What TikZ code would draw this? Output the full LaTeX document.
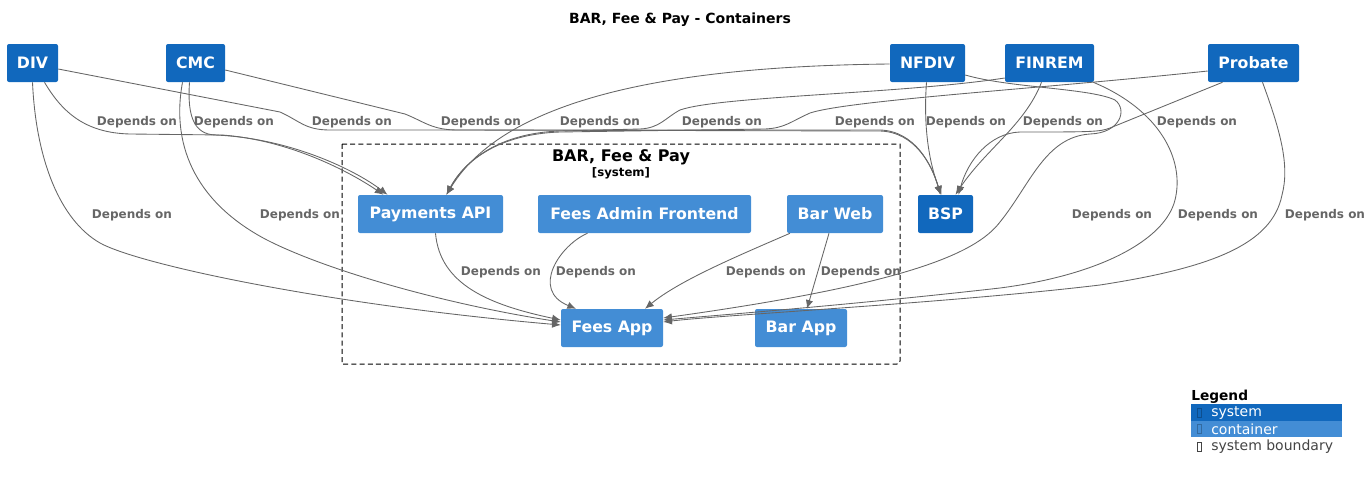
\documentclass[tikz,border=0pt]{standalone}
\usepackage{fontspec}
\setmainfont{DejaVu Sans}
\usetikzlibrary{calc, arrows.meta}
\definecolor{sysblue}{HTML}{1168BD}
\definecolor{conblue}{HTML}{438DD5}
\definecolor{depgray}{HTML}{666666}
\definecolor{legendgray}{HTML}{444444}
\tikzset{>={Latex[length=6.5pt, width=5.5pt]}}
\tikzset{
  sysnode/.style={fill=sysblue, text=white, font=\fontsize{11.8}{14}\selectfont\bfseries,
    rounded corners=1.5pt, minimum height=28.5pt, inner sep=0pt},
  connode/.style={sysnode, fill=conblue},
  dep/.style={->, depgray, line width=0.65pt},
  deplabel/.style={text=depgray, font=\fontsize{9}{11}\selectfont\bfseries, inner sep=0pt, yshift=-1pt}
}

\begin{document}
\begin{tikzpicture}[x=0.75pt, y=-0.75pt]
\useasboundingbox (0,0) rectangle (1372,479);

\node[font=\fontsize{10.5}{12}\selectfont\bfseries] (title) at (680,19.5) {BAR, Fee \& Pay - Containers};

% Draw system boundary
\draw[dash pattern=on 3.75pt off 2.4pt, line width=0.75pt] (342,144) -- (900,144) -- (900,361)
  arc (0:90:3) -- (342,364) -- cycle;
\node[font=\fontsize{12}{14}\selectfont\bfseries] (bndname) at (621,157) {BAR, Fee \& Pay};
\node[font=\fontsize{8.8}{10}\selectfont\bfseries] (bndtype) at (621,173) {[system]};

% Draw systems
\node[sysnode, minimum width=38.25pt] (div) at (32.5,63) {DIV};
\node[sysnode, minimum width=44.25pt] (cmc) at (195.5,63) {CMC};
\node[sysnode, minimum width=56.25pt] (nfdiv) at (927.5,63) {NFDIV};
\node[sysnode, minimum width=66.75pt] (finrem) at (1049.5,63) {FINREM};
\node[sysnode, minimum width=68.25pt] (probate) at (1253.5,63) {Probate};
\node[sysnode, minimum width=41.25pt] (bsp) at (945.5,214) {BSP};

% Draw containers
\node[connode, minimum width=108.75pt] (payapi) at (430.5,214) {Payments API};
\node[connode, minimum width=159.75pt] (feesadmin) at (644.5,214) {Fees Admin Frontend};
\node[connode, minimum width=72pt] (barweb) at (835,214) {Bar Web};
\node[connode, minimum width=76.5pt] (feesapp) at (612,328) {Fees App};
\node[connode, minimum width=69pt] (barapp) at (801,328) {Bar App};

% Draw dependencies
\draw[dep] ($(div.south)+(12,0)$) .. controls (62,112) and (85,133) .. (130,134) -- (222,135)
  .. controls (290,140) and (350,172) .. ($(payapi.north)+(-47,0)$);
\draw[dep] ($(cmc.south)+(-6,0)$) .. controls (187,118) and (195,134) .. (215,135)
  .. controls (290,138) and (355,170) .. ($(payapi.north)+(-43,0)$);
\draw[dep] ($(div.east)+(0,6)$) -- (280,112) .. controls (300,121) and (305,130) .. (330,130) -- (880,130)
  .. controls (915,131) and (932,165) .. ($(bsp.north)+(-5,0)$);
\draw[dep] ($(cmc.east)+(0,7)$) -- (405,114) .. controls (425,122) and (432,130) .. (458,130) -- (880,131)
  .. controls (915,132) and (932,165) .. ($(bsp.north)+(-5,0)$);
\draw[dep] ($(nfdiv.west)+(0,1)$) .. controls (700,66) and (510,90) .. ($(payapi.north)+(16,0)$);
\draw[dep] ($(finrem.west)+(0,15)$) .. controls (900,94) and (720,96) .. (680,110)
  .. controls (665,118) and (660,128) .. (640,129) -- (560,131)
  .. controls (500,133) and (465,160) .. ($(payapi.north)+(16,0)$);
\draw[dep] ($(probate.west)+(0,8)$) .. controls (1050,88) and (850,100) .. (810,113)
  .. controls (790,122) and (785,128) .. (765,129) -- (560,132)
  .. controls (500,134) and (465,160) .. ($(payapi.north)+(16,0)$);
\draw[dep] ($(nfdiv.south)+(-1,0)$) .. controls (923,130) and (930,165) .. ($(bsp.north)+(-4,0)$);
\draw[dep] ($(finrem.south)+(-8,0)$) .. controls (1025,125) and (985,150) .. ($(bsp.north)+(10,0)$);
\draw[dep] ($(probate.south)+(-31,0)$) -- (1110,128) .. controls (1100,132) and (1090,132) .. (1020,132)
  .. controls (990,133) and (968,160) .. ($(bsp.north)+(13,0)$);
\draw[dep] ($(nfdiv.east)+(0,12)$) .. controls (1010,88) and (1090,88) .. (1115,100)
  .. controls (1128,110) and (1120,133) .. (1090,134)
  .. controls (1045,137) and (1030,185) .. (1000,222)
  .. controls (975,255) and (900,285) .. ($(feesapp.east)+(0,-10)$);
\draw[dep] ($(finrem.south east)+(-1,0)$) .. controls (1160,110) and (1185,160) .. (1175,200)
  .. controls (1165,240) and (1100,275) .. (1000,288)
  .. controls (850,305) and (720,315) .. ($(feesapp.east)+(0,-8)$);
\draw[dep] ($(probate.south)+(9,0)$) .. controls (1280,130) and (1290,165) .. (1282,195)
  .. controls (1272,245) and (1210,268) .. (1100,285)
  .. controls (950,303) and (720,315) .. ($(feesapp.east)+(0,-6)$);
\draw[dep] (div.south) .. controls (36,160) and (60,220) .. (100,243)
  .. controls (140,265) and (330,305) .. ($(feesapp.west)+(0,-3)$);
\draw[dep] ($(cmc.south)+(-13,0)$) .. controls (170,150) and (200,205) .. (267,240)
  .. controls (330,272) and (450,305) .. ($(feesapp.west)+(0,-6)$);
\draw[dep] ($(payapi.south)+(5,0)$) .. controls (440,285) and (490,305) .. ($(feesapp.west)+(0,-8)$);
\draw[dep] ($(feesadmin.south)+(-57,0)$) .. controls (560,245) and (530,290) .. ($(feesapp.north)+(-36,0)$);
\draw[dep] ($(barweb.south)+(-45,0)$) .. controls (740,255) and (680,280) .. ($(feesapp.north)+(33,0)$);
\draw[dep] ($(barweb.south)+(-6,0)$) -- ($(barapp.north)+(6,0)$);

% Dependency labels
\foreach \n/\x/\y in {1/137/121, 2/234/121, 3/352/121, 4/481/121, 5/600/121, 6/722/121,
  7/875/121, 8/966/121, 9/1063/121, 10/1197/121, 11/1112/214, 12/1218/214, 13/1325/214,
  14/132/214, 15/300/214, 16/501/271, 17/596/271, 18/766/271, 19/861/271}
  \node[deplabel] (lab\n) at (\x,\y) {Depends on};

% Legend
\node[font=\fontsize{10.3}{12}\selectfont\bfseries, anchor=west, inner sep=0pt] (legend) at (1191,397) {Legend};
\fill[sysblue] (1191,404) rectangle (1342,420.5);
\fill[conblue] (1191,420.5) rectangle (1342,437);
\draw[sysblue!75!black, line width=0.4pt] (1197,408) rectangle (1201,417);
\draw[conblue!75!black, line width=0.4pt] (1197,424.5) rectangle (1201,433.5);
\draw[legendgray, line width=0.4pt] (1197,442) rectangle (1201,451);
\node[anchor=west, inner sep=0pt, text=white, font=\fontsize{10.5}{12}\selectfont] (legsys) at (1211,413) {system};
\node[anchor=west, inner sep=0pt, text=white, font=\fontsize{10.5}{12}\selectfont] (legcon) at (1211,429.5) {container};
\node[anchor=west, inner sep=0pt, text=legendgray, font=\fontsize{10.5}{12}\selectfont] (legbnd) at (1211,447) {system boundary};
\end{tikzpicture}
\end{document}
